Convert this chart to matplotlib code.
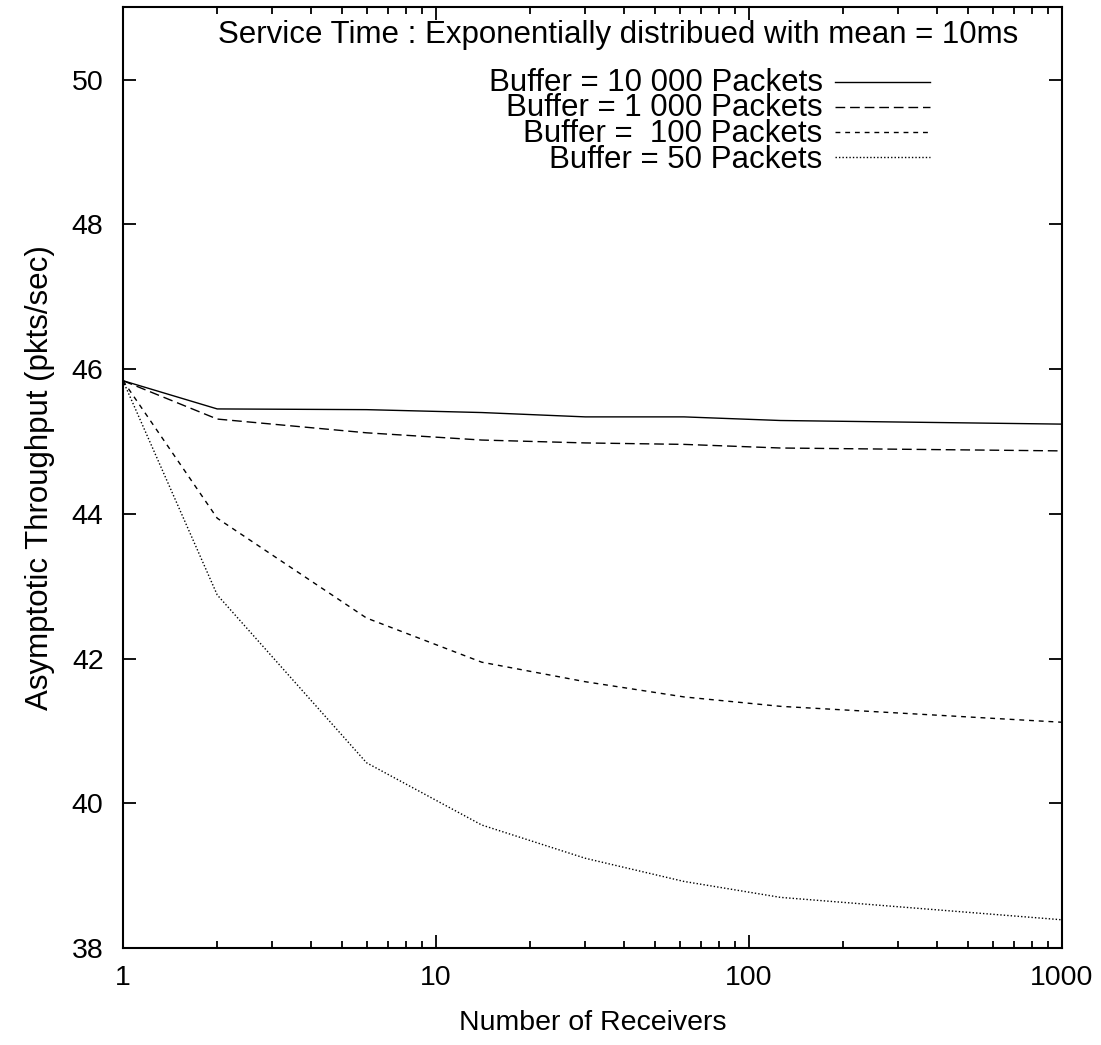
import matplotlib
matplotlib.use("Agg")
import matplotlib.pyplot as plt

plt.rcParams["font.family"] = ["Liberation Sans", "DejaVu Sans"]

# receivers (x) and asymptotic throughput for each buffer size
receivers = [1, 2, 6, 14, 30, 62, 126, 1000]
buf_10000 = [45.84, 45.45, 45.44, 45.40, 45.34, 45.34, 45.29, 45.24]
buf_1000 = [45.84, 45.31, 45.12, 45.02, 44.98, 44.96, 44.91, 44.87]
buf_100 = [45.84, 43.94, 42.56, 41.95, 41.68, 41.47, 41.34, 41.12]
buf_50 = [45.84, 42.88, 40.56, 39.70, 39.24, 38.92, 38.70, 38.39]

labels = ["Buffer = 10 000 Packets", "Buffer = 1 000 Packets",
          "Buffer =  100 Packets", "Buffer = 50 Packets"]
series = [buf_10000, buf_1000, buf_100, buf_50]
styles = ["-", (0, (7, 3.5)), (0, (3.5, 3.5)), (0, (1, 1.5))]

fig = plt.figure(figsize=(11.01, 10.45), dpi=100)
ax = fig.add_axes([0.1117, 0.0928, 0.9646 - 0.1117, 0.993 - 0.0928])

for ys, ls in zip(series, styles):
    ax.plot(receivers, ys, color="black", lw=1.0, ls=ls)

ax.set_xscale("log")
ax.set_xlim(1, 1000)
ax.set_ylim(38, 51)
ax.set_yticks([38, 40, 42, 44, 46, 48, 50])
ax.set_xticks([1, 10, 100, 1000])
ax.set_xticklabels(["1", "10", "100", "1000"])

ax.tick_params(which="both", direction="in", top=True, right=True,
               labelsize=20.5, width=1.3)
ax.tick_params(which="major", length=9.5)
ax.tick_params(which="minor", length=5)
ax.tick_params(axis="y", pad=14)
ax.tick_params(axis="x", pad=12)
for s in ax.spines.values():
    s.set_linewidth(1.5)

ax.set_xlabel("Number of Receivers", fontsize=20.5, labelpad=14)
ax.set_ylabel("Asymptotic Throughput (pkts/sec)", fontsize=22.5, labelpad=12)

# key, gnuplot style: title line, then right-aligned labels with samples
ax.text(0.953, 0.9706, "Service Time : Exponentially distribued with mean = 10ms",
        transform=ax.transAxes, ha="right", va="center", fontsize=22.5)
# labels as one block so the tight gnuplot row pitch keeps
ax.text(0.745, 0.829, "\n".join(labels), transform=ax.transAxes,
        ha="right", va="baseline", multialignment="right",
        fontsize=22.5, linespacing=0.82)
for i, ls in enumerate(styles):
    yk = 0.9205 - i * 0.0266
    ax.plot([0.758, 0.859], [yk, yk], transform=ax.transAxes,
            color="black", lw=1.0, ls=ls)

fig.savefig("out.png", dpi=100)
